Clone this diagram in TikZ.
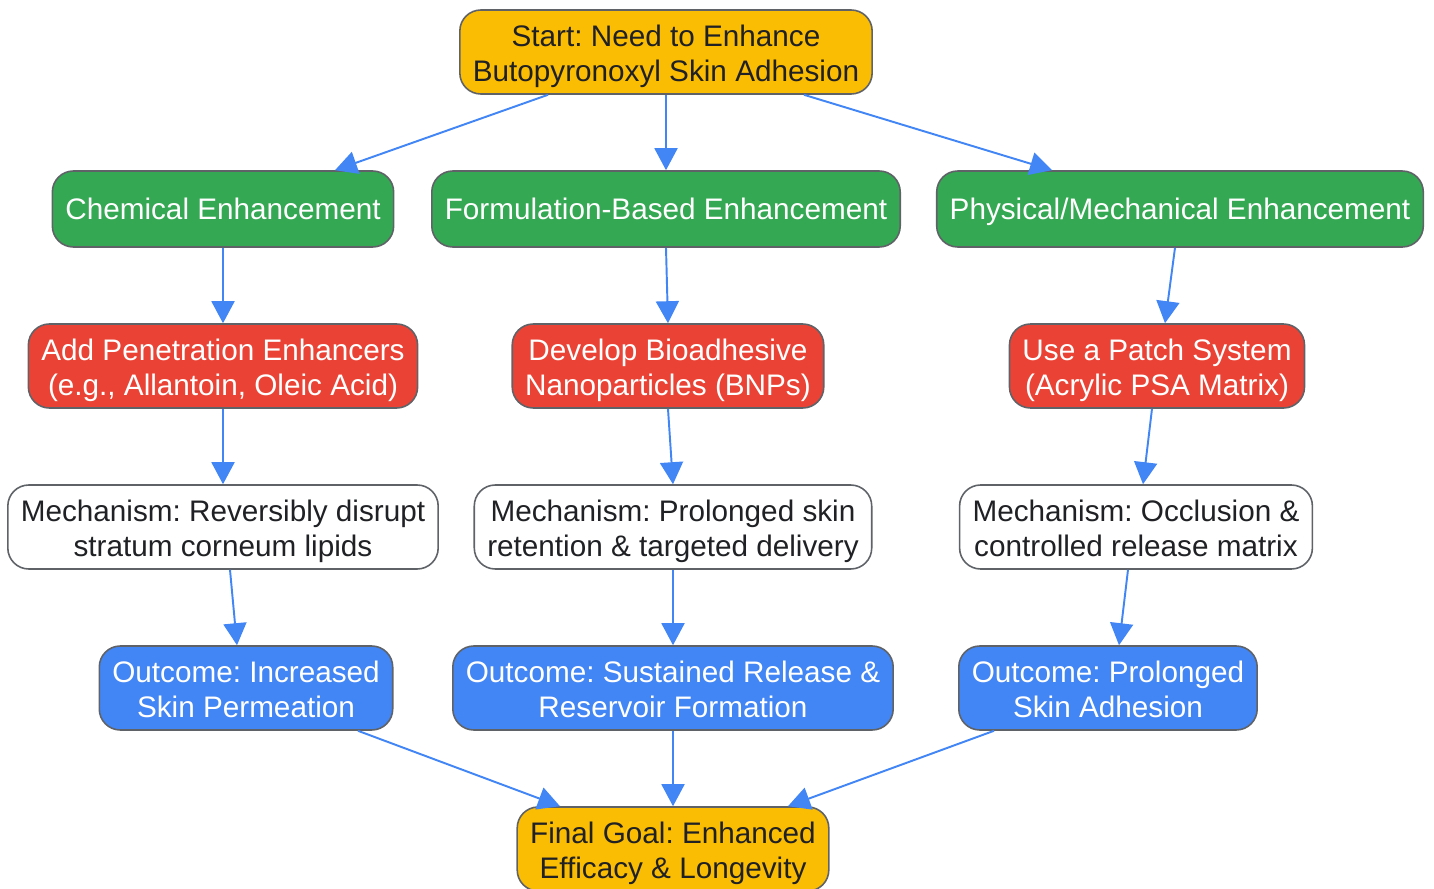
\documentclass[tikz,border=0pt]{standalone}
\usepackage{fontspec}
\setmainfont{Liberation Sans}
\usepackage{tikz}
\usetikzlibrary{arrows.meta}
\definecolor{gyellow}{HTML}{FBBC04}
\definecolor{ggreen}{HTML}{34A853}
\definecolor{gred}{HTML}{EA4335}
\definecolor{gblue}{HTML}{4285F4}
\definecolor{gedge}{HTML}{5F6368}
\definecolor{gtext}{HTML}{202124}
\newcommand\twostrut{\rule{0pt}{37.1pt}}
\newcommand\onestrut{\rule{0pt}{16.1pt}}
\newcommand\botstrut{\rule[-4pt]{0pt}{4pt}}
\frenchspacing

\begin{document}
\begin{tikzpicture}[
  basebox/.style={draw=gedge,line width=0.9pt,rounded corners=0.42cm,align=center,
    inner xsep=0.26cm,inner ysep=0pt,
    font=\fontsize{16.9}{19.4}\selectfont,execute at end node=\botstrut},
  box/.style={basebox,minimum height=1.68cm,execute at begin node=\twostrut},
  onebox/.style={basebox,minimum height=1.52cm,execute at begin node=\onestrut},
  goal/.style={fill=gyellow,text=gtext},
  branch/.style={fill=ggreen,text=white},
  action/.style={fill=gred,text=white},
  mech/.style={fill=white,text=gtext},
  result/.style={fill=gblue,text=white},
  flow/.style={draw=gblue,line width=1.1pt,-{Triangle[length=0.44cm,width=0.46cm]}}]
\useasboundingbox (0,0) rectangle (28.68,-17.78);
% top
\node[box,goal] (start) at (13.32,-1.04) {Start: Need to Enhance\\Butopyronoxyl Skin Adhesion};
% branches
\node[onebox,branch] (chem) at (4.46,-4.18) {Chemical Enhancement};
\node[onebox,branch] (form) at (13.32,-4.18) {Formulation-Based Enhancement};
\node[onebox,branch] (phys) at (23.60,-4.18) {Physical/Mechanical Enhancement};
% actions
\node[box,action] (pen) at (4.46,-7.32) {Add Penetration Enhancers\\(e.g., Allantoin, Oleic Acid)};
\node[box,action] (bnp) at (13.36,-7.32) {Develop Bioadhesive\\Nanoparticles (BNPs)};
\node[box,action] (patch) at (23.14,-7.32) {Use a Patch System\\(Acrylic PSA Matrix)};
% mechanisms
\node[box,mech] (mecha) at (4.46,-10.54) {Mechanism: Reversibly disrupt\\stratum corneum lipids};
\node[box,mech] (mechb) at (13.46,-10.54) {Mechanism: Prolonged skin\\retention \& targeted delivery};
\node[box,mech] (mechc) at (22.72,-10.54) {Mechanism: Occlusion \&\\controlled release matrix};
% outcomes
\node[box,result] (outa) at (4.92,-13.76) {Outcome: Increased\\Skin Permeation};
\node[box,result] (outb) at (13.46,-13.76) {Outcome: Sustained Release \&\\Reservoir Formation};
\node[box,result] (outc) at (22.16,-13.76) {Outcome: Prolonged\\Skin Adhesion};
% end
\node[box,goal] (final) at (13.46,-16.98) {Final Goal: Enhanced\\Efficacy \& Longevity};

\draw[flow] ([xshift=-2.36cm]start.south) -- ([xshift=2.24cm]chem.north);
\draw[flow] (start.south) -- (form.north);
\draw[flow] ([xshift=2.76cm]start.south) -- ([xshift=-2.56cm]phys.north);
\draw[flow] (chem.south) -- (pen.north);
\draw[flow] (form.south) -- (bnp.north);
\draw[flow] ([xshift=-0.1cm]phys.south) -- ([xshift=0.16cm]patch.north);
\draw[flow] (pen.south) -- (mecha.north);
\draw[flow] (bnp.south) -- (mechb.north);
\draw[flow] ([xshift=-0.1cm]patch.south) -- ([xshift=0.14cm]mechc.north);
\draw[flow] ([xshift=0.14cm]mecha.south) -- ([xshift=-0.18cm]outa.north);
\draw[flow] (mechb.south) -- (outb.north);
\draw[flow] ([xshift=-0.16cm]mechc.south) -- ([xshift=0.22cm]outc.north);
\draw[flow] ([xshift=2.24cm]outa.south) -- ([xshift=-2.26cm]final.north);
\draw[flow] (outb.south) -- (final.north);
\draw[flow] ([xshift=-2.28cm]outc.south) -- ([xshift=2.3cm]final.north);
\end{tikzpicture}
\end{document}
